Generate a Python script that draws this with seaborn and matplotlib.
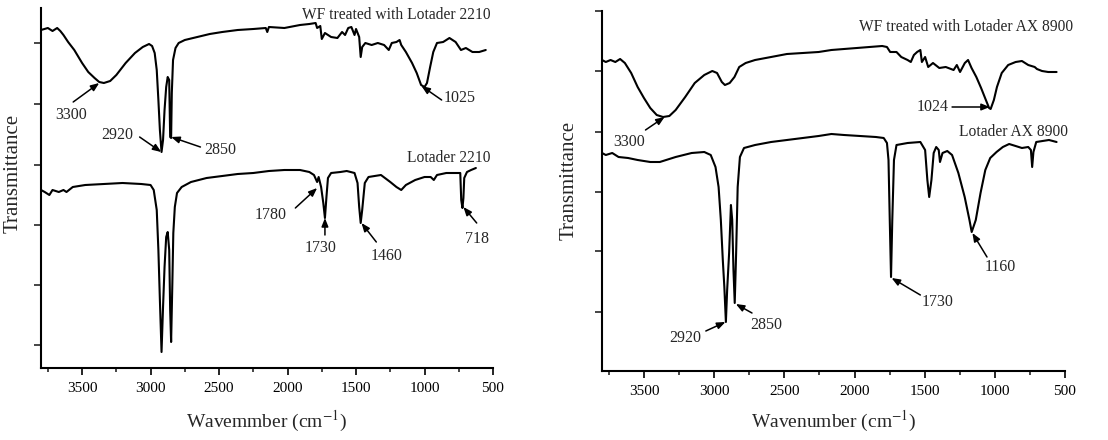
import numpy as np
import pandas as pd
import matplotlib
matplotlib.use("Agg")
import matplotlib.pyplot as plt
import seaborn as sns

# ---------------- data (wavenumber, relative transmittance) ----------------
wf2210_wn = [3800, 3750, 3716, 3682, 3659, 3636, 3602, 3557, 3500, 3455, 3409, 3375, 3341, 3295, 3250,
             3182, 3114, 3057, 3011, 2989, 2970, 2955, 2943, 2932, 2920, 2909, 2898, 2886, 2875, 2864,
             2857, 2850, 2845, 2836, 2818, 2795, 2750, 2659, 2568, 2477, 2364, 2250, 2159, 2148, 2136,
             2023, 1909, 1841, 1795, 1784, 1761, 1750, 1727, 1682, 1636, 1602, 1580, 1557, 1534, 1511,
             1500, 1477, 1466, 1455, 1432, 1386, 1341, 1295, 1261, 1239, 1205, 1182, 1170, 1136, 1091,
             1057, 1025, 1000, 982, 959, 936, 909, 864, 818, 773, 734, 698, 650, 601, 553]
wf2210_t = [338, 340, 337, 340, 337, 333, 326, 318, 305, 296, 290, 286, 285, 287, 293,
            305, 315, 321, 324, 322, 315, 298, 268, 238, 216, 228, 258, 281, 291, 288,
            231, 230, 275, 308, 320, 325, 328, 331, 334, 336, 338, 339, 340, 336, 341,
            340, 343, 344, 345, 340, 342, 329, 335, 331, 330, 336, 333, 340, 341, 333,
            339, 331, 311, 321, 325, 323, 325, 323, 318, 325, 326, 328, 323, 316, 305,
            295, 283, 281, 285, 301, 316, 325, 326, 330, 326, 318, 320, 316, 316, 318]

lot2210_wn = [3800, 3773, 3739, 3716, 3670, 3636, 3614, 3568, 3477, 3341, 3205, 3068, 3000, 2977, 2955,
              2943, 2932, 2920, 2909, 2898, 2886, 2875, 2864, 2857, 2850, 2841, 2834, 2823, 2807, 2773,
              2705, 2591, 2477, 2364, 2250, 2136, 2023, 1909, 1841, 1807, 1784, 1773, 1755, 1739, 1727,
              1716, 1705, 1682, 1614, 1568, 1511, 1489, 1477, 1466, 1455, 1436, 1409, 1364, 1318, 1250,
              1205, 1170, 1136, 1068, 1000, 955, 932, 909, 841, 773, 739, 732, 723, 716, 710, 690, 660, 625]
lot2210_t = [178, 176, 173, 178, 176, 178, 176, 181, 183, 184, 185, 184, 183, 178, 158,
             118, 68, 16, 61, 101, 131, 136, 118, 58, 26, 85, 135, 161, 175, 181,
             186, 190, 192, 194, 195, 197, 198, 198, 196, 193, 186, 191, 181, 165, 150,
             171, 190, 195, 196, 197, 195, 185, 161, 145, 158, 185, 191, 192, 193, 186,
             181, 178, 183, 188, 191, 191, 188, 193, 195, 195, 195, 168, 160, 170, 190, 196, 198, 200]

wfax_wn = [3800, 3773, 3739, 3705, 3671, 3637, 3592, 3546, 3501, 3456, 3410, 3365, 3320, 3275, 3207,
           3139, 3071, 3014, 2980, 2946, 2924, 2890, 2856, 2822, 2776, 2709, 2595, 2482, 2369, 2256,
           2165, 2075, 1984, 1894, 1803, 1769, 1746, 1701, 1667, 1622, 1599, 1577, 1554, 1531, 1520,
           1497, 1475, 1441, 1396, 1350, 1294, 1271, 1248, 1214, 1191, 1166, 1132, 1098, 1064, 1041,
           1030, 1007, 985, 951, 905, 852, 807, 762, 716, 700, 664, 620, 560]
wfax_t = [311, 309, 311, 309, 312, 308, 298, 284, 273, 263, 256, 254, 255, 261, 274,
          288, 296, 300, 298, 289, 286, 288, 294, 304, 308, 311, 314, 317, 318, 319,
          321, 322, 323, 324, 325, 324, 319, 319, 314, 311, 309, 316, 319, 321, 309,
          314, 304, 308, 303, 304, 301, 306, 299, 308, 311, 303, 294, 283, 271, 263,
          262, 271, 284, 298, 306, 309, 310, 306, 304, 302, 300, 299, 299]

lotax_wn = [3800, 3773, 3727, 3682, 3614, 3546, 3456, 3388, 3275, 3161, 3071, 3025, 2991, 2969, 2953,
            2939, 2928, 2917, 2908, 2894, 2881, 2872, 2863, 2854, 2844, 2833, 2817, 2788, 2709, 2595,
            2482, 2369, 2256, 2165, 2075, 1961, 1848, 1792, 1769, 1758, 1749, 1740, 1731, 1719, 1701,
            1622, 1531, 1497, 1481, 1468, 1452, 1436, 1418, 1400, 1391, 1373, 1339, 1305, 1260, 1215,
            1181, 1165, 1136, 1102, 1068, 1033, 988, 943, 898, 852, 807, 762, 743, 734, 725, 705,
            660, 614, 560]
lotax_t = [218, 216, 218, 214, 213, 211, 209, 209, 214, 218, 219, 216, 204, 184, 151,
           111, 84, 49, 81, 118, 166, 151, 101, 68, 118, 184, 214, 223, 226, 229,
           231, 233, 235, 237, 236, 235, 234, 233, 228, 211, 151, 94, 151, 211, 226,
           228, 229, 221, 191, 174, 191, 218, 224, 221, 209, 218, 220, 216, 198, 174,
           151, 139, 151, 178, 201, 213, 219, 224, 227, 225, 223, 224, 221, 204, 219, 229,
           230, 231, 229]

xticks_major = [3500, 3000, 2500, 2000, 1500, 1000, 500]
left_yticks = [23, 83, 143, 203, 264, 325]
right_yticks = [59, 120, 179, 239, 300, 360]

# ---------------- style ----------------
sns.set_style("ticks")
plt.rcParams['font.family'] = ['Liberation Serif', 'DejaVu Serif']
plt.rcParams['mathtext.fontset'] = 'stix'

fig = plt.figure(figsize=(11.08, 4.4), dpi=100)
axL = fig.add_axes([41/1108, 72/440, 452/1108, 360/440])
axR = fig.add_axes([602/1108, 69/440, 463/1108, 360/440])

LW = 1.5
for ax, curves, yt in [(axL, [(wf2210_wn, wf2210_t), (lot2210_wn, lot2210_t)], left_yticks),
                        (axR, [(wfax_wn, wfax_t), (lotax_wn, lotax_t)], right_yticks)]:
    for wn, t in curves:
        df = pd.DataFrame({"wn": wn, "t": t})
        sns.lineplot(data=df, x="wn", y="t", ax=ax, color="black", lw=LW,
                     estimator=None, sort=False)
    ax.set_xlim(3800, 500)
    ax.set_ylim(0, 360)
    ax.set_xticks(xticks_major)
    ax.set_xticks(np.arange(3750, 500, -500).tolist(), minor=True)
    ax.set_yticks(yt)
    ax.set_yticklabels([])
    ax.tick_params(axis='x', which='major', length=5, width=1.2, labelsize=11, pad=5, colors='black')
    ax.tick_params(axis='x', which='minor', length=3, width=1.2)
    ax.tick_params(axis='y', length=5, width=1.2)
    for s in ['top', 'right']:
        ax.spines[s].set_visible(False)
    for s in ['left', 'bottom']:
        ax.spines[s].set_linewidth(1.5)
        ax.spines[s].set_color('black')
    ax.set_ylabel("Transmittance", fontsize=15)

axL.set_xlabel("Wavemmber (cm$^{-1}$)", fontsize=14)
axR.set_xlabel("Wavenumber (cm$^{-1}$)", fontsize=14)
for ax in (axL, axR):
    ax.xaxis.label.set_va('center')
axL.xaxis.set_label_coords(0.5, (368 - 421) / 360)
axR.xaxis.set_label_coords(0.5, (371 - 421) / 360)
axL.yaxis.set_label_coords(-0.040, 0.54)
axR.yaxis.set_label_coords(-0.050, 0.53)

arrow = dict(arrowstyle="-|>,head_length=0.5,head_width=0.2", color="black", lw=1.1, shrinkA=0, shrinkB=0)
fs = 11.5

def note(ax, text, txy, tail, tip):
    ax.text(txy[0], txy[1], text, ha='center', va='center', fontsize=fs)
    ax.annotate("", xy=tip, xytext=tail, arrowprops=arrow)

# left panel
axL.text(515, 353, "WF treated with Lotader 2210", ha='right', va='center', fontsize=11.2)
axL.text(515, 210, "Lotader 2210", ha='right', va='center', fontsize=11.2)
note(axL, "3300", (3580, 253), (3565, 266), (3375, 285))
note(axL, "2920", (3240, 233), (3080, 231), (2922, 216))
note(axL, "2850", (2490, 218), (2636, 221), (2850, 231))
note(axL, "1025", (745, 270), (875, 268), (1022, 282))
note(axL, "1780", (2125, 153), (1943, 160), (1784, 180))
note(axL, "1730", (1761, 120), (1727, 133), (1727, 150))
note(axL, "1460", (1280, 112), (1352, 126), (1460, 145))
note(axL, "718", (615, 129), (619, 145), (716, 161))

# right panel
axR.text(440, 344, "WF treated with Lotader AX 8900", ha='right', va='center', fontsize=11.2)
axR.text(480, 239, "Lotader AX 8900", ha='right', va='center', fontsize=11.2)
note(axR, "3300", (3610, 229), (3490, 241), (3354, 254))
note(axR, "1024", (1440, 264), (1305, 264), (1035, 264))
note(axR, "2920", (3205, 33), (3060, 40), (2920, 49))
note(axR, "2850", (2630, 46), (2731, 58), (2846, 67))
note(axR, "1730", (1410, 69), (1531, 76), (1736, 93))
note(axR, "1160", (960, 104), (1056, 114), (1160, 138))

fig.savefig("out.png", dpi=100)
